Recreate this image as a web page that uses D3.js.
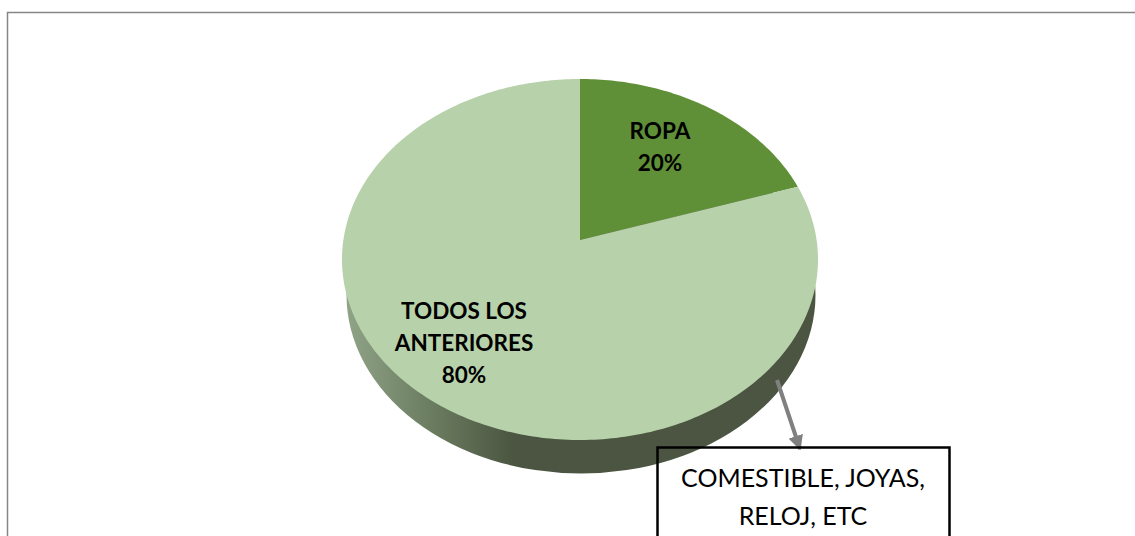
<!DOCTYPE html>
<html>
<head>
<meta charset="utf-8">
<script src="https://cdn.jsdelivr.net/npm/d3@7"></script>
<style>
html, body { margin: 0; padding: 0; background: #fff; overflow: hidden; }
text { font-family: Lato, "Open Sans", sans-serif; fill: #000; }
</style>
</head>
<body>
<div id="chart"></div>
<script>
var width = 1135;
var height = 536;

var categories = ["ROPA", "TODOS LOS ANTERIORES"];
var values = [20, 80];
var colors = ["#5f9037", "#b7d1aa"];
var labelLines = [["ROPA", "20%"], ["TODOS LOS", "ANTERIORES", "80%"]];
var labelPos = [[660, 131], [464, 311]];
var calloutLines = ["COMESTIBLE, JOYAS,", "RELOJ, ETC"];

var svg = d3.select("#chart")
    .append("svg")
    .attr("width", width)
    .attr("height", height)
    .style("display", "block");

var defs = svg.append("defs");

var grad = defs.append("linearGradient")
    .attr("id", "side")
    .attr("gradientUnits", "userSpaceOnUse")
    .attr("x1", 347).attr("x2", 580)
    .attr("y1", 0).attr("y2", 0);
grad.append("stop").attr("offset", "0").attr("stop-color", "#8fa386");
grad.append("stop").attr("offset", "0.4").attr("stop-color", "#67785c");
grad.append("stop").attr("offset", "0.72").attr("stop-color", "#4b5541");
grad.append("stop").attr("offset", "1").attr("stop-color", "#4b5541");

defs.append("marker")
    .attr("id", "head")
    .attr("viewBox", "0 0 10 10")
    .attr("refX", 9).attr("refY", 5)
    .attr("markerUnits", "userSpaceOnUse")
    .attr("markerWidth", 15).attr("markerHeight", 15)
    .attr("orient", "auto")
    .append("path")
    .attr("d", "M0,0L10,5L0,10Z")
    .attr("fill", "#808080");

// chart frame, runs off the right and bottom of the crop
svg.append("path")
    .attr("d", "M7.5,536V12.5H1135")
    .attr("fill", "none")
    .attr("stroke", "#868686")
    .attr("stroke-width", 1.5);

// pie tilted in perspective: the disc centre sits above the middle of the ellipse
var cx = 580, cy = 259.5, rx = 238, ry = 180.5;
var tilt = -0.108;

function project(a, r) {
    var u = r * Math.sin(a);
    var v = -r * Math.cos(a);
    var w = 1 + tilt * v;
    return [
        cx + rx * u * Math.sqrt(1 - tilt * tilt) / w,
        cy + ry * (v + tilt) / w
    ];
}

// rim of the pie
svg.append("ellipse")
    .attr("cx", 581).attr("cy", 295)
    .attr("rx", 234.5).attr("ry", 178.5)
    .attr("fill", "url(#side)");

var pie = d3.pie().sort(null);
var slices = pie(values);
var line = d3.line();

svg.selectAll("path.slice")
    .data(slices)
    .enter()
    .append("path")
    .attr("class", "slice")
    .attr("fill", function(d, i) { return colors[i]; })
    .attr("d", function(d) {
        var pts = [project(0, 0)];
        var steps = Math.ceil((d.endAngle - d.startAngle) * 60);
        for (var s = 0; s <= steps; s++) {
            pts.push(project(d.startAngle + (d.endAngle - d.startAngle) * s / steps, 1));
        }
        return line(pts) + "Z";
    });

// labels
labelLines.forEach(function(lines, i) {
    svg.append("text")
        .attr("text-anchor", "middle")
        .attr("font-size", 22.5)
        .attr("font-weight", 700)
        .selectAll("tspan")
        .data(lines)
        .enter()
        .append("tspan")
        .attr("x", labelPos[i][0])
        .attr("y", function(d, j) { return labelPos[i][1] + 8 + j * 32; })
        .text(function(d) { return d; });
});

// leader arrow and callout
svg.append("line")
    .attr("x1", 777).attr("y1", 380)
    .attr("x2", 800).attr("y2", 449)
    .attr("stroke", "#808080")
    .attr("stroke-width", 4)
    .attr("marker-end", "url(#head)");

svg.append("rect")
    .attr("x", 657.5).attr("y", 447.5)
    .attr("width", 292).attr("height", 100)
    .attr("fill", "none")
    .attr("stroke", "#000")
    .attr("stroke-width", 2.5);

svg.append("text")
    .attr("text-anchor", "middle")
    .attr("font-size", 25)
    .selectAll("tspan")
    .data(calloutLines)
    .enter()
    .append("tspan")
    .attr("x", 803)
    .attr("y", function(d, j) { return 487 + j * 38; })
    .text(function(d) { return d; });
</script>
</body>
</html>
